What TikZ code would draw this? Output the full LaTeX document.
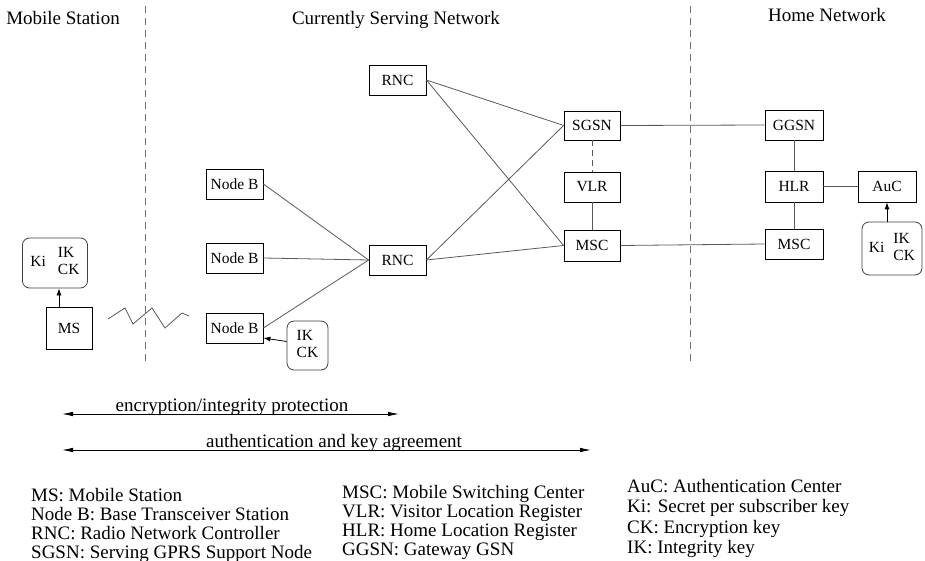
\documentclass[tikz,border=0pt]{standalone}
\usepackage{fontspec}
\setmainfont{Liberation Serif}
\usetikzlibrary{arrows.meta}
\begin{document}
\begin{tikzpicture}[x=1pt,y=-1pt,
  every node/.style={font=\fontsize{19}{19}\selectfont},
  box/.style={draw=black, line width=0.8pt, inner sep=0pt, minimum width=57pt,
    minimum height=30pt, font=\fontsize{15.5}{17}\selectfont},
  keybox/.style={draw=black!75, rounded corners=7pt, line width=0.8pt, inner sep=0pt,
    font=\fontsize{15.5}{17}\selectfont},
  link/.style={draw=black!65, line width=0.8pt},
  divider/.style={draw=black!55, line width=0.9pt, dash pattern=on 7pt off 5pt},
  keyarrow/.style={draw=black, line width=0.8pt, -{Latex[length=7pt,width=5pt]}},
  span/.style={draw=black, line width=0.8pt,
    {Latex[length=11pt,width=4.5pt]}-{Latex[length=11pt,width=4.5pt]}},
  legend/.style={anchor=base west, inner sep=0pt},
  title/.style={anchor=base, inner sep=0pt}
]
\useasboundingbox (0,0) rectangle (925,561);

% domain titles and dividers
\node[title] (tms)   at (63,25)  {Mobile Station};
\node[title] (tcsn)  at (396,25) {Currently Serving Network};
\node[title] (thome) at (827,22) {Home Network};
\coordinate (d1t) at (145,6);  \coordinate (d1b) at (145,362);
\coordinate (d2t) at (690,6);  \coordinate (d2b) at (690,362);
\draw[divider] (d1t) -- (d1b);
\draw[divider] (d2t) -- (d2b);

% mobile station
\node[box, minimum width=46pt, minimum height=42pt] (ms) at (69,328) {MS};
\node[keybox, minimum width=65pt, minimum height=50pt] (kl) at (55,263)
  {Ki\hspace{12pt}\begin{tabular}[c]{@{}l@{}}IK\\CK\end{tabular}};
\draw[keyarrow] ([xshift=-10pt]ms.north) -- ([xshift=-10pt]ms.north |- kl.south);

% radio link
\draw[black!65, line width=0.8pt] (108,319) -- (125,308) -- (133,324) -- (152,308)
  -- (165,328) -- (182,313) -- (189,316);

% serving network
\node[box] (nb1) at (234.5,184) {Node B};
\node[box] (nb2) at (234.5,258) {Node B};
\node[box] (nb3) at (234.5,328) {Node B};
\node[keybox, minimum width=41pt, minimum height=49pt] (kn) at (307.5,345.5)
  {\begin{tabular}[c]{@{}l@{}}IK\\CK\end{tabular}};
\draw[keyarrow] ([yshift=4pt]kn.west) -- ([yshift=-10pt]nb3.east);

\node[box] (rnc1) at (397.5,80)  {RNC};
\node[box] (rnc2) at (397.5,260) {RNC};
\node[box, minimum width=56pt, minimum height=29pt] (sgsn) at (592,125.5) {SGSN};
\node[box, minimum width=56pt] (vlr)  at (592,187)   {VLR};
\node[box, minimum width=56pt, minimum height=31pt] (msc1) at (592,245.5) {MSC};

\draw[link] (nb1.east) -- (rnc2.west);
\draw[link] (nb2.east) -- (rnc2.west);
\draw[link] (nb3.east) -- (rnc2.west);
\draw[link] (rnc1.east) -- (sgsn.west);
\draw[link] (rnc1.east) -- (msc1.west);
\draw[link] (rnc2.east) -- (sgsn.west);
\draw[link] (rnc2.east) -- (msc1.west);
\draw[link, dash pattern=on 6pt off 4pt] (sgsn) -- (vlr);
\draw[link] (vlr) -- (msc1);

% home network
\node[box, minimum width=58pt] (ggsn) at (794,125) {GGSN};
\node[box, minimum width=58pt, minimum height=31pt] (hlr) at (794,186.5) {HLR};
\node[box, minimum width=58pt] (msc2) at (794,244) {MSC};
\node[box, minimum width=58pt, minimum height=31pt] (auc) at (887,186.5) {AuC};
\node[keybox, minimum width=60pt, minimum height=53pt] (kr) at (892,248.5)
  {Ki\hspace{9pt}\begin{tabular}[c]{@{}l@{}}IK\\CK\end{tabular}};

\draw[link] (sgsn.east) -- (ggsn.west);
\draw[link] (msc1.east) -- (msc2.west);
\draw[link] (ggsn) -- (hlr);
\draw[link] (hlr) -- (msc2);
\draw[link] (hlr) -- (auc);
\draw[keyarrow] (kr.north -| auc.south) -- (auc.south);

% protection ranges
\coordinate (e1a) at (62,414);  \coordinate (e1b) at (399,414);
\coordinate (e2a) at (62,450);  \coordinate (e2b) at (591,450);
\draw[span] (e1a) -- (e1b);
\draw[span] (e2a) -- (e2b);
\node[anchor=base, inner sep=0pt] (lenc)  at (232,411) {encryption/integrity protection};
\node[anchor=base, inner sep=0pt] (lauth) at (334,447) {authentication and key agreement};

% abbreviations
\node[legend] (a1) at (31,501) {MS: Mobile Station};
\node[legend] (a2) at (31,520) {Node B: Base Transceiver Station};
\node[legend] (a3) at (31,539) {RNC: Radio Network Controller};
\node[legend] (a4) at (31,558) {SGSN: Serving GPRS Support Node};
\node[legend] (b1) at (342,498) {MSC: Mobile Switching Center};
\node[legend] (b2) at (342,517) {VLR: Visitor Location Register};
\node[legend] (b3) at (342,536) {HLR: Home Location Register};
\node[legend] (b4) at (342,555) {GGSN: Gateway GSN};
\node[legend] (c1) at (627,492) {AuC: Authentication Center};
\node[legend] (c2) at (627,512.5) {Ki: Secret per subscriber key};
\node[legend] (c3) at (627,533) {CK: Encryption key};
\node[legend] (c4) at (627,553.5) {IK: Integrity key};
\end{tikzpicture}
\end{document}
